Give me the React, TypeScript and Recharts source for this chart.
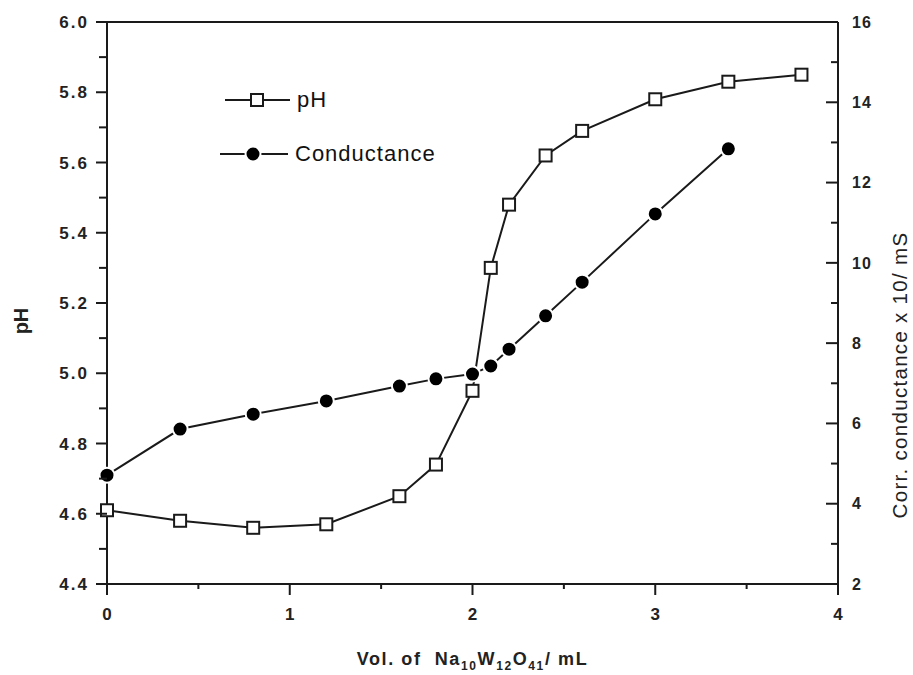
import { ComposedChart, Line, XAxis, YAxis, Legend, ReferenceLine } from "recharts";

const VOLUME = [0, 0.4, 0.8, 1.2, 1.6, 1.8, 2.0, 2.1, 2.2, 2.4, 2.6, 3.0, 3.4, 3.8];
const PH = [4.61, 4.58, 4.56, 4.57, 4.65, 4.74, 4.95, 5.3, 5.48, 5.62, 5.69, 5.78, 5.83, 5.85];
const CONDUCTANCE = [4.71, 5.86, 6.23, 6.56, 6.93, 7.11, 7.23, 7.43, 7.85, 8.68, 9.52, 11.22, 12.84, null];

const X_TICKS = [0, 0.5, 1, 1.5, 2, 2.5, 3, 3.5, 4];
const PH_TICKS = [4.4, 4.5, 4.6, 4.7, 4.8, 4.9, 5.0, 5.1, 5.2, 5.3, 5.4, 5.5, 5.6, 5.7, 5.8, 5.9, 6.0];
const COND_TICKS = [2, 3, 4, 5, 6, 7, 8, 9, 10, 11, 12, 13, 14, 15, 16];

const FONT = "'Liberation Sans', Arial, sans-serif";
const INK = "#1a1a1a";

const data = VOLUME.map((v, i) => ({ vol: v, ph: PH[i], cond: CONDUCTANCE[i] }));

function PhTick({ x, y, payload }: any) {
  const v = payload.value as number;
  const major = Math.round(v * 10) % 2 === 0;
  return (
    <g>
      <line x1={x - (major ? 11 : 8)} x2={x} y1={y} y2={y} stroke={INK} strokeWidth={2} />
      {major && (
        <text x={x - 18} y={y} dy="0.36em" textAnchor="end" fontFamily={FONT} fontSize={17}
          fontWeight="bold" letterSpacing={2} fill="#222">
          {v.toFixed(1)}
        </text>
      )}
    </g>
  );
}

function CondTick({ x, y, payload }: any) {
  const v = payload.value as number;
  const major = v % 2 === 0;
  return (
    <g>
      <line x1={x - (major ? 12 : 7)} x2={x} y1={y} y2={y} stroke={INK} strokeWidth={2} />
      {major && (
        <text x={x + 14} y={y} dy="0.36em" textAnchor="start" fontFamily={FONT} fontSize={16}
          fontWeight="bold" letterSpacing={1} fill="#222">
          {v}
        </text>
      )}
    </g>
  );
}

function VolTick({ x, y, payload }: any) {
  const v = payload.value as number;
  const major = Number.isInteger(v);
  return (
    <g>
      <line x1={x} x2={x} y1={y} y2={y + (major ? 11 : 5)} stroke={INK} strokeWidth={2} />
      {major && (
        <text x={x} y={y + 30} dy="0.36em" textAnchor="middle" fontFamily={FONT} fontSize={17}
          fontWeight="bold" fill="#222">
          {v}
        </text>
      )}
    </g>
  );
}

function VolTitle({ viewBox }: any) {
  const cx = viewBox.x + viewBox.width / 2;
  const sub = { fontSize: 12 };
  return (
    <text x={cx} y={viewBox.y + 81} textAnchor="middle" fontFamily={FONT} fontSize={18}
      fontWeight="bold" letterSpacing={1.6} fill="#222" style={{ whiteSpace: "pre" }}>
      Vol. of  Na
      <tspan {...sub} dy={5}>10</tspan>
      <tspan dy={-5}>W</tspan>
      <tspan {...sub} dy={5}>12</tspan>
      <tspan dy={-5}>O</tspan>
      <tspan {...sub} dy={5}>41</tspan>
      <tspan dy={-5}>/ mL</tspan>
    </text>
  );
}

function PhTitle({ viewBox }: any) {
  const x = viewBox.x + 21;
  const y = viewBox.y + viewBox.height / 2 + 18;
  return (
    <text x={x} y={y} transform={`rotate(-90 ${x} ${y})`} textAnchor="middle" dy="0.36em"
      fontFamily={FONT} fontSize={20} fontWeight="bold" fill="#222">
      pH
    </text>
  );
}

function CondTitle({ viewBox }: any) {
  const x = viewBox.x + 62;
  const y = viewBox.y + viewBox.height / 2 + 72;
  return (
    <text x={x} y={y} transform={`rotate(-90 ${x} ${y})`} textAnchor="middle" dy="0.36em"
      fontFamily={FONT} fontSize={20.5} letterSpacing={1.3} fill="#222">
      Corr. conductance x 10/ mS
    </text>
  );
}

function SquareDot({ cx, cy, index }: any) {
  if (cx == null || cy == null) return <g key={index} />;
  return <rect key={index} x={cx - 6} y={cy - 6} width={12} height={12} fill="#fff" stroke={INK} strokeWidth={2} />;
}

function LegendContent({ payload }: any) {
  const order = ["ph", "cond"];
  const items = [...(payload || [])].sort(
    (a: any, b: any) => order.indexOf(a.dataKey) - order.indexOf(b.dataKey)
  );
  return (
    <div style={{ fontFamily: FONT, fontSize: 22, color: "#111", letterSpacing: 1 }}>
      {items.map((item: any) => (
        <div key={item.dataKey} style={{ display: "flex", alignItems: "center", height: 54 }}>
          <svg width={75} height={20} style={{ display: "block" }}>
            {item.dataKey === "ph" ? (
              <>
                <line x1={5} x2={70} y1={10} y2={10} stroke={INK} strokeWidth={2} />
                <rect x={31} y={4} width={12} height={12} fill="#fff" stroke={INK} strokeWidth={2} />
              </>
            ) : (
              <>
                <line x1={0} x2={68} y1={10} y2={10} stroke={INK} strokeWidth={2} />
                <circle cx={33} cy={10} r={7.5} fill="#000" stroke="#fff" strokeWidth={2} />
              </>
            )}
          </svg>
          <span style={{ marginLeft: item.dataKey === "ph" ? 2 : 0 }}>{item.value}</span>
        </div>
      ))}
    </div>
  );
}

export default function App() {
  return (
    <div style={{ position: "absolute", left: 0, top: 0, width: 913, height: 675, background: "#fff" }}>
      <ComposedChart width={913} height={675} data={data} margin={{ top: 22, right: 0, bottom: 0, left: 0 }}>
        <XAxis
          dataKey="vol"
          type="number"
          domain={[0, 4]}
          ticks={X_TICKS}
          interval={0}
          height={91}
          tickSize={0}
          tickMargin={0}
          tickLine={false}
          tick={<VolTick />}
          axisLine={{ stroke: INK, strokeWidth: 2 }}
          label={<VolTitle />}
        />
        <YAxis
          yAxisId="ph"
          orientation="left"
          domain={[4.4, 6.0]}
          ticks={PH_TICKS}
          interval={0}
          width={107}
          tickSize={0}
          tickMargin={0}
          tickLine={false}
          tick={<PhTick />}
          axisLine={{ stroke: INK, strokeWidth: 2 }}
          label={<PhTitle />}
        />
        <YAxis
          yAxisId="cond"
          orientation="right"
          domain={[2, 16]}
          ticks={COND_TICKS}
          interval={0}
          width={75}
          tickSize={0}
          tickMargin={0}
          tickLine={false}
          tick={<CondTick />}
          axisLine={{ stroke: INK, strokeWidth: 2 }}
          label={<CondTitle />}
        />
        <ReferenceLine yAxisId="ph" y={6.0} stroke={INK} strokeWidth={2} />
        <Legend
          layout="vertical"
          align="center"
          verticalAlign="middle"
          content={<LegendContent />}
          wrapperStyle={{ left: 220, top: 73, width: 260 }}
        />
        <Line
          yAxisId="ph"
          dataKey="ph"
          name="pH"
          type="linear"
          stroke={INK}
          strokeWidth={2}
          dot={<SquareDot />}
          activeDot={false}
          isAnimationActive={false}
        />
        <Line
          yAxisId="cond"
          dataKey="cond"
          name="Conductance"
          type="linear"
          stroke={INK}
          strokeWidth={2}
          dot={{ r: 7.5, fill: "#000", stroke: "#fff", strokeWidth: 2 }}
          activeDot={false}
          isAnimationActive={false}
        />
      </ComposedChart>
    </div>
  );
}
